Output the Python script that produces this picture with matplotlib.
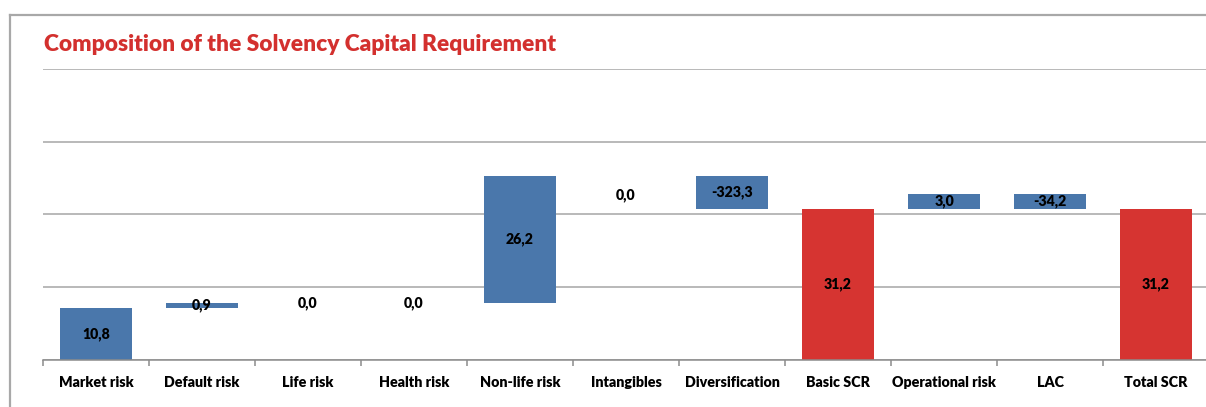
import matplotlib
matplotlib.use("Agg")
import matplotlib.pyplot as plt
from matplotlib.lines import Line2D
import numpy as np

# ---- data ----
categories = ["Market risk", "Default risk", "Life risk", "Health risk", "Non-life risk",
              "Intangibles", "Diversification", "Basic SCR", "Operational risk", "LAC", "Total SCR"]
step_values = [10.8, 0.9, 0.0, 0.0, 26.2, 0.0, -6.7, 0.0, 3.0, -3.0, 0.0]
is_total = [False, False, False, False, False, False, False, True, False, False, True]
value_labels = ["10,8", "0,9", "0,0", "0,0", "26,2", "0,0", "-323,3", "31,2", "3,0", "-34,2", "31,2"]
y_ticks = [0, 15, 30, 45, 60]
title = "Composition of the Solvency Capital Requirement"

# ---- style ----
W, H, DPI = 1206, 407, 100
BLUE = "#4A77AB"
RED = "#D63431"
TITLE_RED = "#D3302E"
GRID = "#A6A6A6"
FONT = "Lato"

plt.rcParams["font.family"] = [FONT, "DejaVu Sans"]

fig = plt.figure(figsize=(W / DPI, H / DPI), dpi=DPI)

# axes placement
left, right = 43, 1209
top, bottom = 68.7, 360
ax = fig.add_axes([left / W, 1 - bottom / H, (right - left) / W, (bottom - top) / H])

# waterfall geometry
n = len(categories)
x = np.arange(n)
bottoms, heights, colors = [], [], []
cum = 0.0
for v, tot in zip(step_values, is_total):
    if tot:
        bottoms.append(0.0)
        heights.append(cum)
        colors.append(RED)
    else:
        start = cum
        cum = cum + v
        bottoms.append(min(start, cum))
        heights.append(abs(v))
        colors.append(BLUE)

ax.bar(x, heights, bottom=bottoms, width=0.67, color=colors, zorder=3, linewidth=0)

# value labels
label_shift_px = [0, 0, 0, 0, 0, -19, 0, 0, 0, 0, 0]
for i in range(n):
    yc = bottoms[i] + heights[i] / 2.0
    ax.annotate(value_labels[i], (x[i], yc), xytext=(0, label_shift_px[i] * 72 / DPI),
                textcoords="offset points", ha="center", va="center",
                fontsize=10.2, fontweight="heavy", color="black", zorder=5)

ax.set_xlim(-0.5, n - 0.5)
ax.set_ylim(y_ticks[0], y_ticks[-1])
ax.set_yticks(y_ticks)
ax.yaxis.grid(True, color=GRID, linewidth=1.1, zorder=0)
ax.tick_params(axis="y", length=0, labelleft=False)
for s in ["top", "right", "left"]:
    ax.spines[s].set_visible(False)
ax.spines["bottom"].set_color("#8C8C8C")
ax.spines["bottom"].set_linewidth(1.1)
ax.spines["bottom"].set_zorder(4)

ax.set_xticks(np.arange(n + 1) - 0.5)
ax.set_xticklabels([])
ax.tick_params(axis="x", which="major", direction="out", length=4, width=1.1, color="#8C8C8C")
ax.set_xticks(x, minor=True)
ax.set_xticklabels(categories, minor=True, fontsize=10.3, fontweight="heavy")
ax.tick_params(axis="x", which="minor", length=0, pad=11.5)
ax.set_facecolor("none")
ax.set_axisbelow(True)

# title
fig.text(44 / W, 1 - 44.5 / H, title, ha="left", va="center", fontsize=16.35,
         fontweight="heavy", color=TITLE_RED)

# outer frame lines
fig.add_artist(Line2D([10 / W, 1.0], [1 - 14.7 / H, 1 - 14.7 / H], color="#A8A8A8", linewidth=1.6))
fig.add_artist(Line2D([10.3 / W, 10.3 / W], [1 - 14.7 / H, 0.0], color="#A8A8A8", linewidth=1.6))

fig.savefig("out.png", dpi=DPI)
